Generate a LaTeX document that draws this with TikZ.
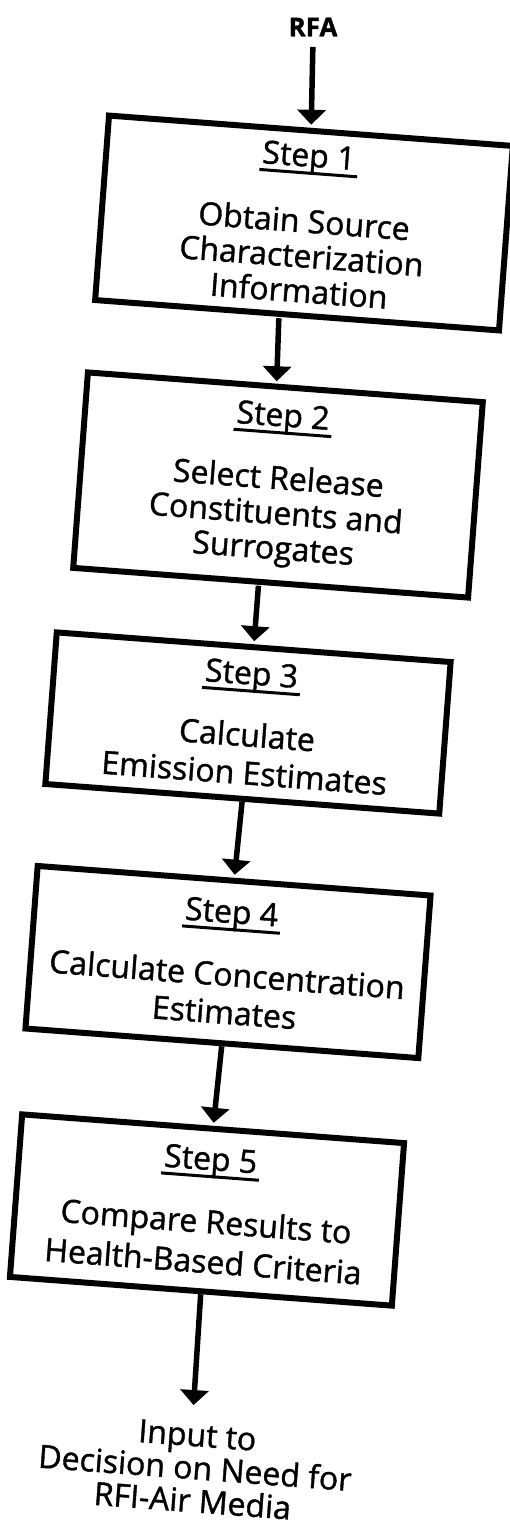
\documentclass[tikz,border=0pt]{standalone}
\usepackage{fontspec}
\setmainfont{Open Sans}[FakeBold=1.2]
\usepackage{tikz}
\usetikzlibrary{arrows.meta, positioning, calc}
\newcommand{\steptitle}[1]{\setbox0=\hbox{#1}\hbox{\rlap{\kern-2pt\rule[-8pt]{\dimexpr\wd0+5pt\relax}{3pt}}\box0}}
\tikzset{
    stepbox/.style={draw, rectangle, line width=6pt, rotate=-4.3, align=center, inner sep=0pt, font=\fontsize{32}{35}\selectfont},
    flowarrow/.style={-{Triangle[width=28pt, length=15pt]}, line width=5.5pt, shorten >=3pt},
    flowlabel/.style={font=\fontsize{32}{33}\selectfont, align=center, rotate=-4.3},
    headlabel/.style={font=\fontsize{26}{30}\selectfont\bfseries},
}

\begin{document}
\begin{tikzpicture}[x=1pt, y=-1pt]
    \useasboundingbox[fill=white] (0,0) rectangle (510,1526);

    % Input
    \node[headlabel] (rfa) at (313,27) {RFA};

    % Steps
    \node[stepbox, minimum width=405pt, minimum height=185pt] (source) at (304,223) {
        \steptitle{Step 1}\\[31pt]
        Obtain Source\\
        Characterization\\
        Information
    };
    \node[stepbox, minimum width=396pt, minimum height=196pt] (select) at (278,485) {
        \steptitle{Step 2}\\[28pt]
        Select Release\\
        Constituents and\\
        Surrogates
    };
    \node[stepbox, minimum width=395pt, minimum height=152pt] (emission) at (248,723) {
        \steptitle{Step 3}\\[27pt]
        Calculate\\[3pt]
        Emission Estimates
    };
    \node[stepbox, minimum width=394pt, minimum height=163pt] (concentration) at (228,962) {
        \steptitle{Step 4}\\[28pt]
        Calculate Concentration\\[3pt]
        Estimates
    };
    \node[stepbox, minimum width=383pt, minimum height=163pt] (compare) at (207,1210) {
        \steptitle{Step 5}\\[28pt]
        Compare Results to\\[5pt]
        Health-Based Criteria
    };

    % Output
    \node[flowlabel] (decision) at (195,1468) {
        Input to\\
        Decision on Need for\\
        RFI-Air Media
    };

    \draw[flowarrow, shorten <=7pt] (rfa.south) -- (source.north);
    \draw[flowarrow] ([xshift=-18pt]source.south) -- ([xshift=-9pt]select.north);
    \draw[flowarrow] ([xshift=-12pt]select.south) -- (emission.north);
    \draw[flowarrow] (emission.south) -- (concentration.north);
    \draw[flowarrow] (concentration.south) -- (compare.north);
    \draw[flowarrow, shorten >=15pt] (compare.south) -- ([xshift=-6pt]decision.north);
\end{tikzpicture}
\end{document}
